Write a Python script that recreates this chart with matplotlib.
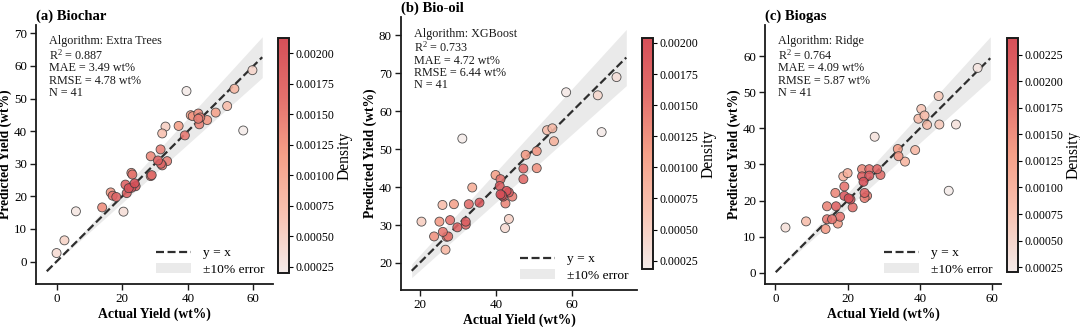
import numpy as np
import matplotlib
matplotlib.use("Agg")
import matplotlib.pyplot as plt
from matplotlib.colors import LinearSegmentedColormap
from matplotlib.ticker import MultipleLocator, FormatStrFormatter
from matplotlib.patches import Patch
from matplotlib.lines import Line2D

plt.rcParams['font.family'] = ['Liberation Serif', 'DejaVu Serif']
plt.rcParams['mathtext.fontset'] = 'custom'
plt.rcParams['mathtext.rm'] = 'Liberation Serif'
plt.rcParams['mathtext.it'] = 'Liberation Serif:italic'

# ---------------- data ----------------
titles = ["(a) Biochar", "(b) Bio-oil", "(c) Biogas"]
algorithms = ["Extra Trees", "XGBoost", "Ridge"]
r2_vals = [0.887, 0.733, 0.764]
mae_vals = [3.49, 4.72, 4.09]
rmse_vals = [4.78, 6.44, 5.87]
n_vals = [41, 41, 41]

biochar_actual = [0.0, 2.4, 5.9, 13.9, 20.4, 16.5, 17.1, 18.2, 21.0, 21.4, 22.8,
                  23.1, 22.8, 24.1, 28.7, 28.7, 30.9, 31.7, 32.2, 33.7, 32.2,
                  33.2, 37.2, 39.1, 39.6, 40.9, 43.2, 43.5, 43.2, 45.9, 48.5,
                  52.0, 54.2, 56.9, 59.7, 22.0, 23.8, 29.0, 31.8, 43.8, 41.5]
biochar_pred = [2.6, 6.5, 15.4, 16.6, 15.3, 21.2, 20.2, 19.8, 23.6, 21.0, 27.2,
                26.7, 22.6, 23.1, 32.3, 26.2, 31.0, 34.4, 29.5, 30.8, 39.3,
                41.4, 41.6, 38.7, 52.3, 44.9, 45.4, 42.1, 43.8, 43.4, 45.7,
                47.7, 53.0, 40.2, 58.7, 22.5, 24.0, 26.5, 30.0, 44.2, 44.6]

biooil_actual = [20.5, 23.8, 25.2, 26.0, 26.1, 27.1, 26.8, 27.5, 28.0, 29.0,
                 29.9, 32.1, 32.1, 32.9, 33.8, 35.7, 31.2, 39.9, 41.0, 41.2,
                 41.2, 41.9, 42.8, 42.5, 43.4, 44.3, 43.4, 42.4, 47.2, 47.2,
                 47.8, 50.7, 50.7, 53.4, 54.8, 55.2, 58.4, 66.7, 67.7, 71.6, 41.6]
biooil_pred = [30.9, 27.0, 30.9, 35.3, 28.2, 26.9, 23.5, 27.0, 31.3, 35.5,
               29.4, 30.9, 30.1, 35.5, 39.9, 35.9, 52.8, 43.2, 40.3, 42.1,
               38.1, 37.5, 39.0, 35.7, 38.6, 37.5, 31.6, 29.2, 44.9, 42.1,
               48.5, 49.5, 45.0, 55.0, 55.5, 52.1, 65.0, 64.2, 54.5, 69.0, 37.8]

biogas_actual = [2.8, 8.5, 13.9, 14.3, 14.3, 15.7, 16.6, 16.8, 17.3, 17.9,
                 18.8, 19.1, 19.1, 20.0, 20.3, 21.4, 24.0, 24.0, 24.4, 24.7,
                 24.7, 25.4, 26.0, 26.0, 28.2, 29.1, 27.5, 33.9, 34.1, 35.9,
                 38.7, 39.6, 40.4, 41.3, 42.0, 45.2, 45.4, 48.0, 50.0, 56.0, 20.8]
biogas_pred = [12.5, 14.2, 12.1, 14.8, 18.4, 14.8, 22.1, 18.4, 13.6, 15.5,
               26.7, 23.9, 21.3, 27.6, 20.6, 18.1, 28.7, 26.7, 25.2, 22.1,
               20.7, 21.3, 28.7, 26.9, 28.7, 27.1, 37.7, 34.3, 32.3, 30.8,
               34.0, 42.7, 45.4, 43.6, 41.0, 49.0, 41.1, 22.7, 41.1, 56.8, 20.3]

actual_sets = [biochar_actual, biooil_actual, biogas_actual]
pred_sets = [biochar_pred, biooil_pred, biogas_pred]
density_ranges = [(0.000198, 0.002125), (0.000183, 0.00204), (0.000203, 0.00241)]
x_steps = [20, 20, 20]
y_steps = [10, 10, 10]

# ---------------- layout (pixels) ----------------
W, H = 1080, 327
axes_px = [(36, 273, 25, 284), (401, 637, 17, 290), (765, 1001, 25, 284)]
cbar_px = [(278, 289, 38, 273), (642, 653, 38, 269), (1007, 1018, 38, 272)]

cmap = LinearSegmentedColormap.from_list(
    "dens", ["#f4ebe9", "#f8c3b2", "#f5a088", "#e3706c", "#d64f58"])


def kde2d(x, y):
    data = np.vstack([x, y])
    n = data.shape[1]
    factor = n ** (-1.0 / 6.0)
    cov = np.cov(data) * factor ** 2
    inv = np.linalg.inv(cov)
    norm = 1.0 / (2 * np.pi * np.sqrt(np.linalg.det(cov)))
    diff = data[:, :, None] - data[:, None, :]
    m = np.einsum('ijk,il,ljk->jk', diff, inv, diff)
    return norm * np.exp(-0.5 * m).mean(axis=1)


fig = plt.figure(figsize=(W / 100, H / 100), dpi=100)

for i in range(3):
    l, r, t, b = axes_px[i]
    ax = fig.add_axes([l / W, 1 - b / H, (r - l) / W, (b - t) / H])
    cl, cr, ct, cb = cbar_px[i]
    cax = fig.add_axes([cl / W, 1 - cb / H, (cr - cl) / W, (cb - ct) / H])

    x = np.array(actual_sets[i], dtype=float)
    y = np.array(pred_sets[i], dtype=float)
    d = kde2d(x, y)
    lo, hi = density_ranges[i]
    d = lo + (d - d.min()) / (d.max() - d.min()) * (hi - lo)
    order = np.argsort(d)

    allv = np.concatenate([x, y])
    span = allv.max() - allv.min()
    lx = np.linspace(allv.min() - 0.05 * span, allv.max() + 0.05 * span, 100)

    ax.fill_between(lx, lx * 0.9, lx * 1.1, color="#d9d9d9", alpha=0.55,
                    linewidth=0, zorder=1)
    ax.plot(lx, lx, linestyle=(0, (3.6, 1.6)), color="#2e2e2e", lw=1.6, zorder=2)

    sc = ax.scatter(x[order], y[order], c=d[order], cmap=cmap, vmin=lo, vmax=hi,
                    s=42, edgecolors="#3a3a3a", linewidths=0.6, alpha=0.88, zorder=3)

    ax.xaxis.set_major_locator(MultipleLocator(x_steps[i]))
    ax.yaxis.set_major_locator(MultipleLocator(y_steps[i]))
    for side in ["top", "right"]:
        ax.spines[side].set_visible(False)
    for side in ["left", "bottom"]:
        ax.spines[side].set_linewidth(1.3)
        ax.spines[side].set_color("#1a1a1a")
    ax.tick_params(axis="both", labelsize=9.4, length=4.5, width=1.0,
                   direction="out", color="#1a1a1a", pad=2)

    ax.set_xlabel("Actual Yield (wt%)", fontsize=9.8, fontweight="bold", labelpad=2)
    ax.set_ylabel("Predicted Yield (wt%)", fontsize=9.8, fontweight="bold", labelpad=1.5)
    ax.set_title(titles[i], loc="left", fontsize=10.5, fontweight="bold", pad=4)

    txt = (f"Algorithm: {algorithms[i]}\n"
           f"R$^2$ = {r2_vals[i]:.3f}\n"
           f"MAE = {mae_vals[i]:.2f} wt%\n"
           f"RMSE = {rmse_vals[i]:.2f} wt%\n"
           f"N = {n_vals[i]}")
    ax.text(0.055, 0.96, txt, transform=ax.transAxes, ha="left", va="top",
            fontsize=8.7, linespacing=1.02, color="#1a1a1a")

    handles = [Line2D([0], [0], linestyle=(0, (3.6, 1.6)), color="#2e2e2e", lw=1.6),
               Patch(facecolor="#d9d9d9", alpha=0.55, edgecolor="none")]
    ax.legend(handles, ["y = x", "±10% error"], loc="lower right", frameon=False,
              fontsize=9.7, handlelength=2.6, handletextpad=0.9,
              borderaxespad=0.2, labelspacing=0.3)

    cb_ = fig.colorbar(sc, cax=cax)
    cb_.solids.set_alpha(1.0)
    cb_.outline.set_linewidth(1.4)
    cb_.outline.set_edgecolor("#1a1a1a")
    cb_.set_ticks(np.arange(0.00025, hi + 1e-9, 0.00025))
    cb_.ax.yaxis.set_major_formatter(FormatStrFormatter("%.5f"))
    cb_.ax.tick_params(labelsize=8.6, length=3, width=0.8, pad=2)
    cb_.set_label("Density", fontsize=11.2, labelpad=1)

fig.savefig("out.png", dpi=100)
